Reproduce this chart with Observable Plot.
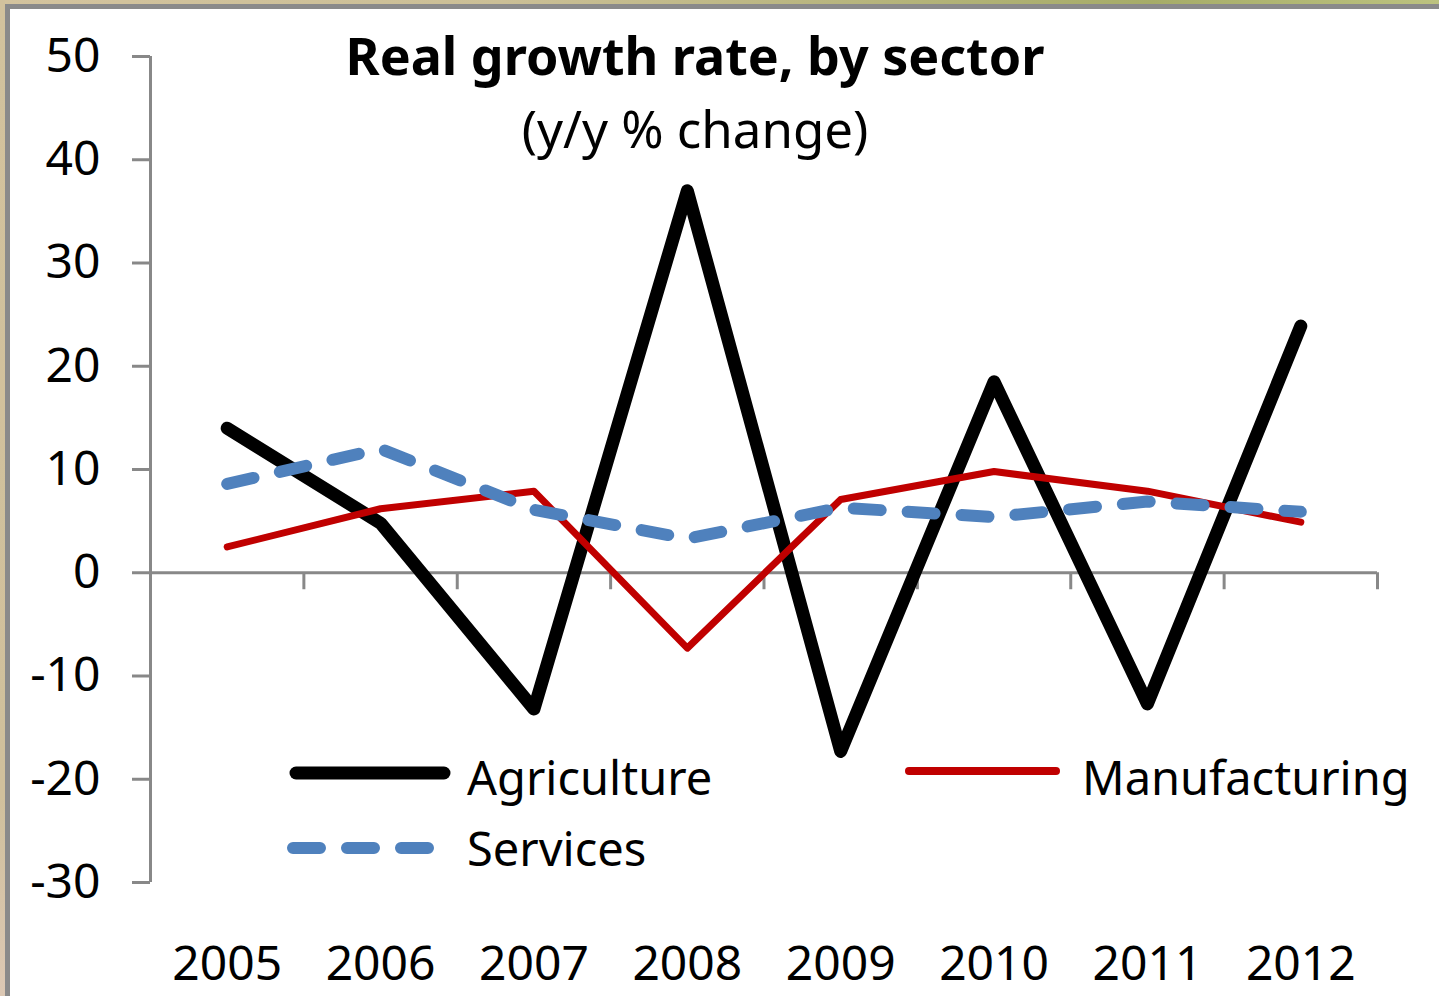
<!DOCTYPE html>
<html><head><meta charset="utf-8">
<script src="https://cdn.jsdelivr.net/npm/d3@7"></script>
<script src="https://cdn.jsdelivr.net/npm/@observablehq/plot@0.6"></script>
<style>
html,body{margin:0;padding:0;background:#fff;}
#wrap{position:relative;width:1439px;height:996px;overflow:hidden;font-family:"Noto Sans",sans-serif;background:#fff;}
#chart{position:absolute;left:0;top:0;}
#overlay{position:absolute;left:0;top:0;pointer-events:none;}
.bt{position:absolute;left:0;top:0;width:1439px;height:4px;background:linear-gradient(to right,#d3c39e 0%,#cbbf96 35%,#a6ac68 80%,#bcc27f 100%);}
.bg{position:absolute;left:5px;top:4px;width:1434px;height:5px;background:#8a8a8a;}
.lt{position:absolute;left:0;top:0;width:5px;height:996px;background:linear-gradient(to bottom,#d2c29d 0%,#d0c09c 80%,#dcc8b4 100%);}
.lg{position:absolute;left:5px;top:4px;width:5px;height:992px;background:#8a8a8a;}
</style>
</head>
<body>
<div id="wrap">
  <div id="chart"></div>
  <div class="bt"></div><div class="lt"></div><div class="bg"></div><div class="lg"></div>
  <svg id="overlay" width="1439" height="996"></svg>
</div>
<script>
const years = [2005, 2006, 2007, 2008, 2009, 2010, 2011, 2012];
const agriculture = [14.0, 4.8, -13.2, 37.0, -17.3, 18.5, -12.7, 23.9];
const manufacturing = [2.5, 6.2, 7.9, -7.3, 7.1, 9.8, 7.9, 4.9];
const services = [8.6, 12.0, 6.1, 3.3, 6.3, 5.4, 6.9, 5.9];
const yTicks = [-30, -20, -10, 0, 10, 20, 30, 40, 50];
const seriesNames = ["Agriculture", "Manufacturing", "Services"];
const titleText = "Real growth rate, by sector";
const subtitleText = "(y/y % change)";

const styles = {
  Agriculture: {stroke: "#000000", strokeWidth: 13, dash: null},
  Manufacturing: {stroke: "#C00000", strokeWidth: 7, dash: null},
  Services: {stroke: "#4F81BD", strokeWidth: 12, dash: "27,27"}
};

const seriesValues = [agriculture, manufacturing, services];
const table = seriesNames.flatMap((name, s) => years.map((year, i) => ({series: name, year, value: seriesValues[s][i]})));
const boundaries = years.map(y => y + 0.5);
const fontSize = 48;
const legendFontSize = 47;

const lineMarks = seriesNames.map(name => Plot.lineY(table.filter(d => d.series === name), {
  x: "year", y: "value",
  stroke: styles[name].stroke,
  strokeWidth: styles[name].strokeWidth,
  strokeDasharray: styles[name].dash,
  strokeLinecap: "round", strokeLinejoin: "round"
}));

const chart = Plot.plot({
  width: 1439, height: 996,
  marginLeft: 150, marginRight: 62, marginTop: 56, marginBottom: 114,
  style: {fontFamily: '"Noto Sans", sans-serif', background: "transparent"},
  x: {domain: [years[0] - 0.5, years[years.length - 1] + 0.5], axis: null},
  y: {domain: [yTicks[0], yTicks[yTicks.length - 1]], axis: null},
  marks: [
    Plot.axisY({ticks: yTicks, label: null, tickSize: 18, tickPadding: 32, stroke: "#888", strokeWidth: 3, fill: "#000", fontSize, tickFormat: d => String(d)}),
    Plot.axisX({ticks: years, label: null, tickSize: 0, tickPadding: 63, fill: "#000", fontSize, tickFormat: d => String(d)}),
    Plot.ruleX([years[0] - 0.5], {y1: yTicks[0], y2: yTicks[yTicks.length - 1], stroke: "#888", strokeWidth: 3}),
    Plot.ruleY([0], {stroke: "#888", strokeWidth: 3}),
    Plot.ruleX(boundaries, {y1: 0, y2: 0, insetBottom: -17, stroke: "#888", strokeWidth: 3}),
    ...lineMarks
  ]
});
document.getElementById("chart").appendChild(chart);

// Title, subtitle and legend overlay
const svg = d3.select("#overlay");
const ff = '"Noto Sans", sans-serif';
svg.append("text").attr("x", 695).attr("y", 75).attr("text-anchor", "middle")
  .attr("font-family", ff).attr("font-weight", "bold").attr("font-size", 52).attr("fill", "#000").text(titleText);
svg.append("text").attr("x", 695).attr("y", 148).attr("text-anchor", "middle")
  .attr("font-family", ff).attr("font-size", 51).attr("fill", "#000").text(subtitleText);

const legendItems = [
  {name: seriesNames[0], x1: 296, x2: 444, y: 773, tx: 467, ty: 795},
  {name: seriesNames[1], x1: 909, x2: 1056, y: 771, tx: 1082, ty: 795},
  {name: seriesNames[2], x1: 293, x2: 432, y: 848, tx: 467, ty: 866}
];
legendItems.forEach(it => {
  const st = styles[it.name];
  svg.append("line").attr("x1", it.x1).attr("x2", it.x2).attr("y1", it.y).attr("y2", it.y)
    .attr("stroke", st.stroke).attr("stroke-width", st.strokeWidth + (it.name === "Manufacturing" ? 1 : 0))
    .attr("stroke-linecap", "round").attr("stroke-dasharray", st.dash);
  svg.append("text").attr("x", it.tx).attr("y", it.ty).attr("font-family", ff)
    .attr("font-size", legendFontSize).attr("fill", "#000").text(it.name);
});
</script>
</body></html>
